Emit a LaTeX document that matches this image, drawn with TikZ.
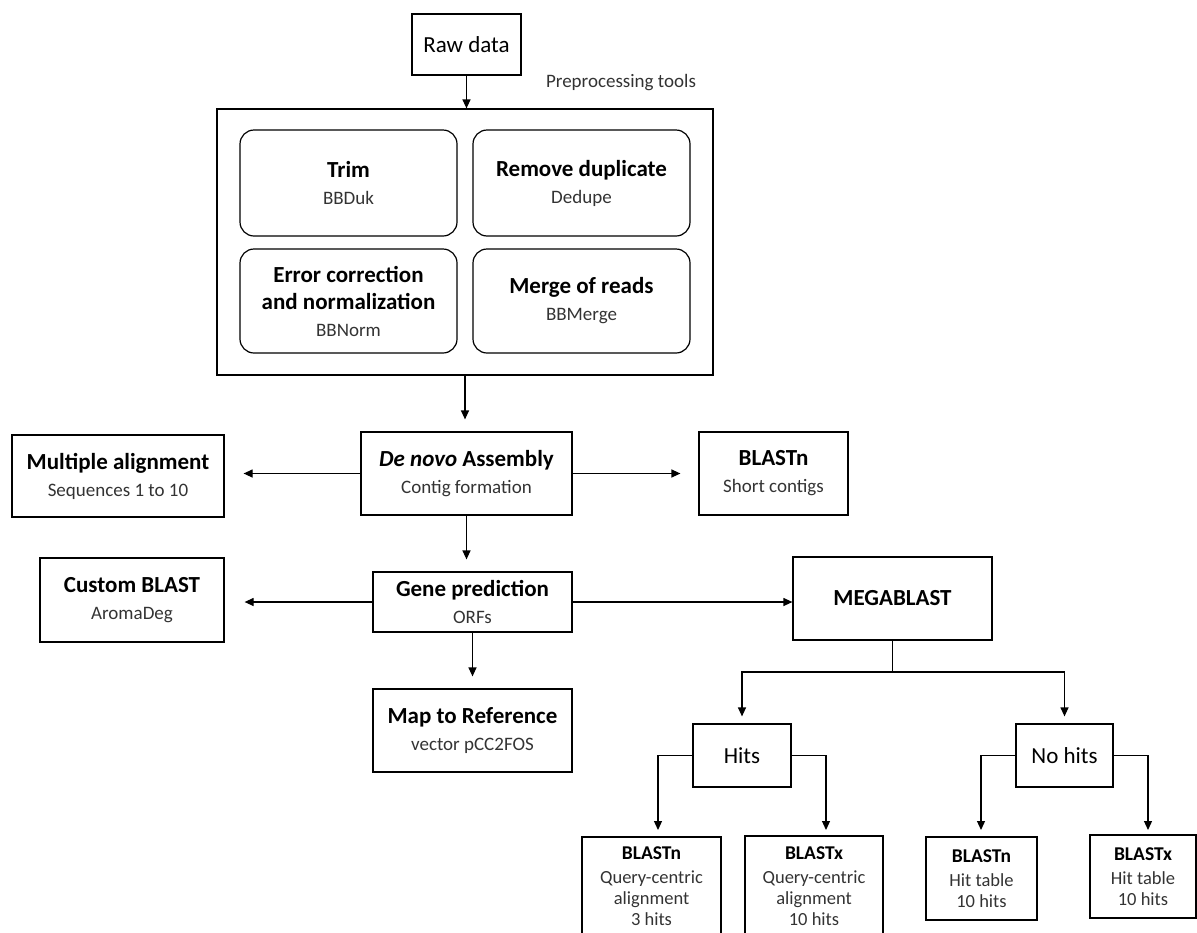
\documentclass[tikz,border=0pt]{standalone}
\usepackage{fontspec}
\setmainfont{Carlito}
\usetikzlibrary{arrows.meta, positioning}

\definecolor{subgray}{gray}{0.2}
\newcommand{\boxtitle}[1]{{\fontsize{23}{27}\selectfont\bfseries\color{black}#1}}
\newcommand{\leaftitle}[1]{{\fontsize{19.5}{21}\selectfont\bfseries\color{black}#1}}

\begin{document}
\begin{tikzpicture}[
    x=1pt, y=-1pt,
    >={Triangle[length=9pt, width=8pt]},
    line width=1.2pt,
    box/.style={draw, rectangle, align=center, inner sep=2pt, text=subgray,
                font=\fontsize{19}{27}\selectfont},
    tool/.style={box, rounded corners=14pt},
    leaf/.style={box, font=\fontsize{18.5}{21}\selectfont},
    plain/.style={box, text=black, font=\fontsize{23}{27}\selectfont}
  ]
  \useasboundingbox (0,0) rectangle (1197,932);

  % Raw data and preprocessing
  \node[plain, minimum width=109pt, minimum height=61pt] (raw) at (466.5, 44.5) {Raw data};
  \node[font=\fontsize{19}{23}\selectfont, text=subgray] (prelabel) at (621, 83) {Preprocessing tools};
  \node[draw, minimum width=496pt, minimum height=266pt] (pre) at (465, 242) {};
  \node[tool, minimum width=217pt, minimum height=106pt] (trim) at (348.5, 183)
    {\boxtitle{Trim}\\BBDuk};
  \node[tool, minimum width=217pt, minimum height=106pt] (dedup) at (581.5, 183)
    {\boxtitle{Remove duplicate}\\Dedupe};
  \node[tool, minimum width=217pt, minimum height=104pt] (errcorr) at (348.5, 301)
    {\boxtitle{Error correction}\\\boxtitle{and normalization}\\BBNorm};
  \node[tool, minimum width=217pt, minimum height=104pt] (merge) at (581.5, 301)
    {\boxtitle{Merge of reads}\\BBMerge};

  % Assembly row
  \node[box, minimum width=211pt, minimum height=83pt] (denovo) at (466.5, 473.5)
    {\boxtitle{\textit{De novo} Assembly}\\Contig formation};
  \node[box, minimum width=212pt, minimum height=82pt] (multi) at (118, 476)
    {\boxtitle{Multiple alignment}\\Sequences 1 to 10};
  \node[box, minimum width=149pt, minimum height=83pt] (blastn) at (773.5, 473.5)
    {\boxtitle{BLASTn}\\Short contigs};

  % Gene prediction row
  \node[box, minimum width=199pt, minimum height=60pt] (gene) at (472.5, 602)
    {\boxtitle{Gene prediction}\\ORFs};
  \node[box, minimum width=184pt, minimum height=84pt] (custom) at (132, 600)
    {\boxtitle{Custom BLAST}\\AromaDeg};
  \node[box, minimum width=199pt, minimum height=83pt] (mega) at (892.5, 598.5)
    {\boxtitle{MEGABLAST}};
  \node[box, minimum width=199pt, minimum height=83pt] (mapref) at (472.5, 730.5)
    {\boxtitle{Map to Reference}\\vector pCC2FOS};

  % MEGABLAST outcomes
  \node[plain, minimum width=98pt, minimum height=63pt] (hits) at (742, 755.5) {Hits};
  \node[plain, minimum width=97pt, minimum height=63pt] (nohits) at (1064.5, 755.5) {No hits};
  \node[leaf, minimum width=139pt, minimum height=99pt] (bnhits) at (651.5, 886.5)
    {\leaftitle{BLASTn}\\[3pt]Query-centric\\alignment\\3 hits};
  \node[leaf, minimum width=138pt, minimum height=100pt] (bxhits) at (814, 886)
    {\leaftitle{BLASTx}\\[3pt]Query-centric\\alignment\\10 hits};
  \node[leaf, minimum width=111pt, minimum height=83pt] (bnnone) at (981.5, 878.5)
    {\leaftitle{BLASTn}\\[3pt]Hit table\\10 hits};
  \node[leaf, minimum width=106pt, minimum height=83pt] (bxnone) at (1143, 876.5)
    {\leaftitle{BLASTx}\\[3pt]Hit table\\10 hits};

  \coordinate (split) at (892.5, 672);
  \coordinate (hitsl) at (658, 830);
  \coordinate (hitsr) at (826, 830);
  \coordinate (nonel) at (981, 830);
  \coordinate (noner) at (1148, 830);

  % Connectors
  \draw[->] (raw.south) -- (raw.south |- pre.north);
  \draw[->, shorten >=12pt] (pre.south) -- (pre.south |- denovo.north);
  \draw[->, shorten >=19pt] (denovo.west) -- (denovo.west -| multi.east);
  \draw[->, shorten >=18pt] (denovo.east) -- (denovo.east -| blastn.west);
  \draw[->, shorten >=12pt] (denovo.south) -- (denovo.south |- gene.north);
  \draw[->, shorten >=20pt] (gene.west) -- (gene.west -| custom.east);
  \draw[->] (gene.east) -- (gene.east -| mega.west);
  \draw[->, shorten >=12pt] (gene.south) -- (gene.south |- mapref.north);
  \draw (mega.south) -- (mega.south |- split);
  \draw[->, shorten >=7pt] (split) -| (hits);
  \draw[->, shorten >=7pt] (split) -| (nohits);
  \draw[->] (hits.west) -| (hitsl);
  \draw[->] (hits.east) -| (hitsr);
  \draw[->] (nohits.west) -| (nonel);
  \draw[->] (nohits.east) -| (noner);
\end{tikzpicture}
\end{document}
